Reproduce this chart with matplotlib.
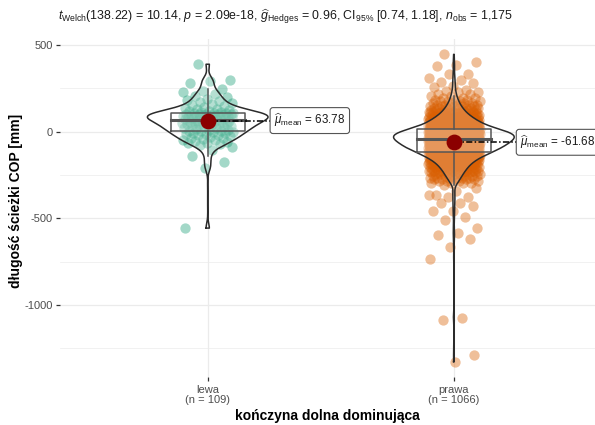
import numpy as np
import matplotlib
matplotlib.use("Agg")
import matplotlib.pyplot as plt

plt.rcParams["font.family"] = ["Liberation Sans", "DejaVu Sans"]
plt.rcParams["mathtext.fontset"] = "custom"
plt.rcParams["mathtext.rm"] = "Liberation Sans"
plt.rcParams["mathtext.it"] = "Liberation Sans:italic"
plt.rcParams["mathtext.bf"] = "Liberation Sans:bold"

# ---- data ---------------------------------------------------------------
groups = ["lewa", "prawa"]
colors = ["#1B9E77", "#D95F02"]

# left dominant limb: COP path length [mm]
lewa_values = [
    389, 299, 290, 283, 245, 236, 226, 217, 207,
    198, 190, 183, 176, 170, 164, 158, 152, 147, 142, 137, 132, 128, 124,
    120, 117, 114, 112,
    110, 108, 106, 105, 104, 102, 101, 100, 99, 97, 96, 95, 94, 92, 91, 90,
    89, 87, 86, 85, 84, 82, 80, 78, 76, 73, 70,
    66, 64, 62, 60, 58, 56, 54, 52, 50, 48, 46, 44, 42, 40, 37, 35, 32, 30,
    27, 24, 21, 18, 15, 12, 9, 6, 4,
    2, 0, -3, -6, -9, -12, -15, -18, -22, -26, -30, -34, -38, -42, -46, -50,
    -55, -60, -64, -68,
    -71, -75, -90, -109, -138, -178, -209, -557,
]

# right dominant limb: sparse upper and lower values
prawa_upper = [446, 404, 385, 378, 335, 332, 309, 297, 287, 278, 264, 259,
               240, 236, 230, 226]
prawa_lower = [-310, -325, -342, -368, -378, -378, -368, -414, -414, -431,
               -458, -458, -492, -511, -557, -584, -598, -622, -668, -736,
               -1075, -1086, -1287, -1328]
# right dominant limb: dense core, 10 mm classes (class centre, count)
prawa_core_centres = [215, 205, 195, 185, 175, 165, 155, 145, 135, 125,
                      115, 105, 95, 85, 75, 65, 55, 45, 35, 25, 15,
                      5, -5, -15, -25, -35, -45,
                      -55, -65, -75, -85, -95, -105,
                      -115, -125, -135, -145, -155, -165, -175, -185, -195,
                      -205, -215, -225, -235, -245, -255, -265, -275, -285,
                      -295]
prawa_core_counts = [2, 2, 3, 3, 4, 4, 5, 6, 7, 8,
                     9, 10, 12, 14, 16, 18, 20, 23, 25, 28, 34,
                     42, 46, 49, 50, 49, 47,
                     45, 43, 41, 39, 37, 35,
                     31, 27, 24, 22, 19, 17, 15, 13, 12,
                     11, 10, 9, 8, 7, 6, 6, 5, 4,
                     4]

means = [63.78, -61.68]

title_text = (r"$t_{\mathrm{Welch}}$(138.22) = 10.14, $p$ = 2.09e-18, "
              r"$\widehat{g}_{\mathrm{Hedges}}$ = 0.96, CI$_{95\%}$ [0.74, 1.18], "
              r"$n_{\mathrm{obs}}$ = 1,175")
y_title = "długość ścieżki COP [mm]"
x_title = "kończyna dolna dominująca"
y_major = [500, 0, -500, -1000]
y_minor = [250, -250, -750, -1250]

# ---- assemble ------------------------------------------------------------
prawa_values = np.concatenate([
    np.array(prawa_upper, float),
    np.repeat(np.array(prawa_core_centres, float), prawa_core_counts),
    np.array(prawa_lower, float),
])
samples = [np.array(lewa_values, float), prawa_values]
positions = [1, 2]


def jitter(n, width):
    # evenly spread horizontal offsets (golden-ratio sequence)
    k = np.arange(n)
    frac = (k * 0.6180339887 + 0.31) % 1.0
    return (frac * 2 - 1) * width


def nrd0(x):
    sd = np.std(x, ddof=1)
    iqr = np.subtract(*np.percentile(x, [75, 25]))
    lo = min(sd, iqr / 1.34)
    return 0.9 * lo * len(x) ** (-0.2)


fig = plt.figure(figsize=(5.95, 4.25), dpi=100)
ax = fig.add_axes([60 / 595, 1 - 377 / 425, (601.6 - 60) / 595, (377 - 39) / 425])

for pos, vals, col, mu in zip(positions, samples, colors, means):
    # jittered observations
    ax.scatter(pos + jitter(len(vals), 0.105), vals, s=55, color=col,
               alpha=0.4, linewidths=0, zorder=2)

    # violin (gaussian KDE trimmed to data range)
    bw = nrd0(vals)
    grid = np.linspace(vals.min(), vals.max(), 512)
    dens = np.exp(-0.5 * ((grid[:, None] - vals[None, :]) / bw) ** 2).sum(1)
    half = dens / dens.max() * 0.245
    ax.fill_betweenx(grid, pos - half, pos + half, facecolor="white",
                     alpha=0.2, zorder=3)
    ax.plot(np.concatenate([pos - half, (pos + half)[::-1], [pos - half[0]]]),
            np.concatenate([grid, grid[::-1], [grid[0]]]),
            color="#2b2b2b", lw=1.1, zorder=3)

    # box plot
    q1, med, q3 = np.percentile(vals, [25, 50, 75])
    iqr = q3 - q1
    up = vals[vals <= q3 + 1.5 * iqr].max()
    dn = vals[vals >= q1 - 1.5 * iqr].min()
    bw_box = 0.15
    ax.fill_between([pos - bw_box, pos + bw_box], q1, q3, color="white",
                    alpha=0.2, zorder=4, linewidth=0)
    ax.plot([pos - bw_box, pos + bw_box, pos + bw_box, pos - bw_box, pos - bw_box],
            [q1, q1, q3, q3, q1], color="#555555", lw=1.1, zorder=4)
    ax.plot([pos - bw_box, pos + bw_box], [med, med], color="#555555",
            lw=2.2, zorder=4)
    ax.plot([pos, pos], [q3, up], color="#555555", lw=1.1, zorder=4)
    ax.plot([pos, pos], [q1, dn], color="#555555", lw=1.1, zorder=4)

    # mean marker and label
    ax.plot([pos, pos + 0.252], [mu, mu], color="black", lw=1.1,
            linestyle=(0, (4, 1.5, 1, 1.5)), zorder=5)
    ax.scatter([pos], [mu], s=130, color="#8B0000", zorder=6, linewidths=0)
    ax.text(pos + 0.27, mu,
            r"$\widehat{\mu}_{\mathrm{mean}}$" + f" = {mu:.2f}",
            ha="left", va="center", fontsize=8.4, color="#1a1a1a", zorder=7,
            bbox=dict(boxstyle="round,pad=0.35,rounding_size=0.25",
                      fc="white", ec="#555555", lw=0.8))

# axes and scales
all_vals = np.concatenate(samples)
rng = all_vals.max() - all_vals.min()
ax.set_ylim(all_vals.min() - 0.05 * rng, all_vals.max() + 0.05 * rng)
ax.set_xlim(0.4, 2.6)

for y in y_major:
    ax.axhline(y, color="#EBEBEB", lw=0.9, zorder=0)
for y in y_minor:
    ax.axhline(y, color="#EBEBEB", lw=0.5, zorder=0)
for x in positions:
    ax.axvline(x, color="#EBEBEB", lw=0.9, zorder=0)

ax.set_yticks(y_major)
ax.set_yticklabels([str(v) for v in y_major])
ax.set_xticks(positions)
ax.set_xticklabels([f"{g}\n(n = {len(v)})" for g, v in zip(groups, samples)],
                   linespacing=1.0)
ax.tick_params(axis="both", length=3, width=0.9, color="#333333",
               labelcolor="#4D4D4D", labelsize=8)
ax.tick_params(axis="y", pad=2)
ax.tick_params(axis="x", pad=2.5)
for s in ax.spines.values():
    s.set_visible(False)

fig.text(16.5 / 595, 1 - 201 / 425, y_title, rotation=90, ha="center",
         va="center", fontsize=10, fontweight="bold")
fig.text(327 / 595, 1 - 416 / 425, x_title, ha="center", va="center",
         fontsize=10, fontweight="bold")
fig.text(58 / 595, 1 - 17 / 425, title_text, ha="left", va="center",
         fontsize=8.9, color="#1a1a1a")

fig.savefig("out.png", dpi=100)
